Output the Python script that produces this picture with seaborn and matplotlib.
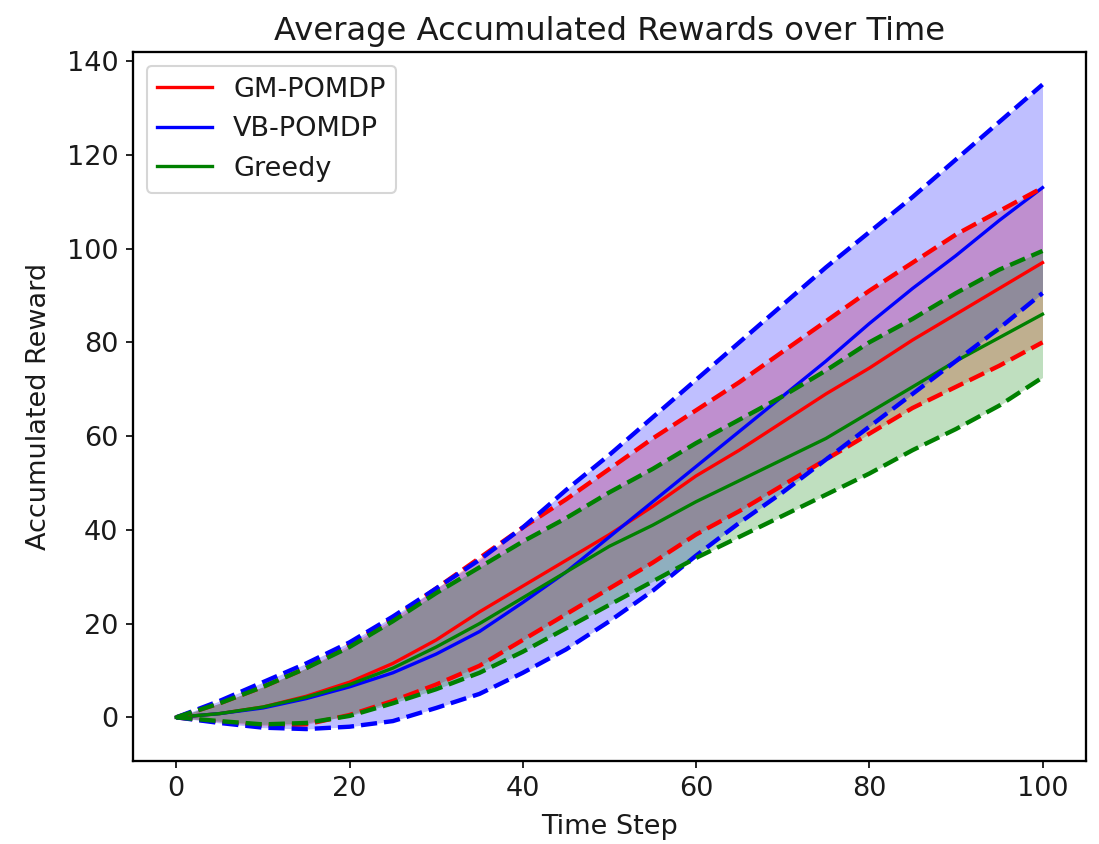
import numpy as np
import pandas as pd
import matplotlib
matplotlib.use("Agg")
import matplotlib.pyplot as plt
import seaborn as sns

# Time steps at which the accumulated rewards were recorded
steps = [0, 5, 10, 15, 20, 25, 30, 35, 40, 45, 50, 55, 60, 65, 70, 75, 80, 85, 90, 95, 100]

# GM-POMDP: mean and band bounds
gm_mean = [0, 0.8, 2.2, 4.5, 7.5, 11.5, 16.5, 22.5, 28, 33.5, 39, 45, 51.5, 57, 63, 69, 74.5, 80.5, 86, 91.5, 97]
gm_upper = [0, 3, 6.5, 10.5, 15.5, 21, 27.5, 34, 40.5, 46.5, 53, 59.5, 65.5, 71.5, 78, 84.5, 91, 97, 103, 108, 113]
gm_lower = [0, -1, -1.8, -1.5, 0.5, 3.5, 7, 11, 16.5, 22, 27.5, 33, 39, 44, 49.5, 55, 60.5, 66, 70.5, 75, 80]

# VB-POMDP: mean and band bounds
vb_mean = [0, 0.8, 2, 4, 6.5, 9.5, 13.5, 18.3, 24.5, 31, 38.5, 46, 53.5, 61, 68.5, 76, 84, 91.5, 98.5, 106, 113]
vb_upper = [0, 3.5, 7.5, 11.5, 16, 21.5, 27.5, 33.6, 40.5, 48.5, 56, 64, 72, 80, 88, 96, 103.5, 111, 119, 127, 135]
vb_lower = [0, -1.2, -2.2, -2.5, -2, -0.8, 2, 5, 9.5, 14.5, 20.5, 27, 34.5, 41.5, 48, 55, 62, 69, 76, 83, 90.5]

# Greedy: mean and band bounds
gr_mean = [0, 0.8, 2.2, 4.3, 7, 10.5, 15, 20, 25.5, 31, 36.5, 41, 46, 50.5, 55, 59.5, 65, 70.5, 76, 81, 86]
gr_upper = [0, 3, 6.5, 10.5, 15, 20.5, 26.5, 32, 37.5, 42.5, 48, 53, 58.5, 63.5, 68.5, 74, 80, 85, 90.5, 95.5, 99.5]
gr_lower = [0, -0.8, -1.5, -1.2, 0.3, 3, 6, 9.5, 14, 19, 24, 29, 34, 38.5, 43, 47.5, 52, 57, 61.5, 66.5, 72.5]

methods = ["GM-POMDP", "VB-POMDP", "Greedy"]
colors = {"GM-POMDP": "red", "VB-POMDP": "blue", "Greedy": "green"}
means = {"GM-POMDP": gm_mean, "VB-POMDP": vb_mean, "Greedy": gr_mean}
uppers = {"GM-POMDP": gm_upper, "VB-POMDP": vb_upper, "Greedy": gr_upper}
lowers = {"GM-POMDP": gm_lower, "VB-POMDP": vb_lower, "Greedy": gr_lower}

df = pd.concat(
    [pd.DataFrame({"Time Step": steps, "Accumulated Reward": means[m], "Method": m}) for m in methods],
    ignore_index=True,
)

plt.rcParams.update({
    "font.size": 13,
    "axes.labelsize": 13,
    "xtick.labelsize": 13,
    "ytick.labelsize": 13,
    "legend.fontsize": 13,
    "axes.linewidth": 1.1,
    "text.color": "#1a1a1a",
    "axes.labelcolor": "#1a1a1a",
    "xtick.labelcolor": "#1a1a1a",
    "ytick.labelcolor": "#1a1a1a",
})

fig, ax = plt.subplots(figsize=(1099 / 150, 844 / 150), dpi=150)
fig.subplots_adjust(left=0.121, right=0.988, top=0.938, bottom=0.098)

sns.lineplot(data=df, x="Time Step", y="Accumulated Reward", hue="Method",
             hue_order=methods, palette=colors, linewidth=1.6, ax=ax)

for m in methods:
    c = colors[m]
    ax.plot(steps, uppers[m], color=c, linestyle="--", linewidth=2.1)
    ax.plot(steps, lowers[m], color=c, linestyle="--", linewidth=2.1)
    ax.fill_between(steps, lowers[m], uppers[m], color=c, alpha=0.25, linewidth=0)

ax.set_title("Average Accumulated Rewards over Time", fontsize=15.5)
ax.set_xlabel("Time Step", labelpad=6)
ax.set_ylabel("Accumulated Reward", labelpad=7)
ax.set_xticks([0, 20, 40, 60, 80, 100])
ax.set_yticks([0, 20, 40, 60, 80, 100, 120, 140])
ax.legend(loc="upper left", title=None)

fig.savefig("out.png", dpi=150)
